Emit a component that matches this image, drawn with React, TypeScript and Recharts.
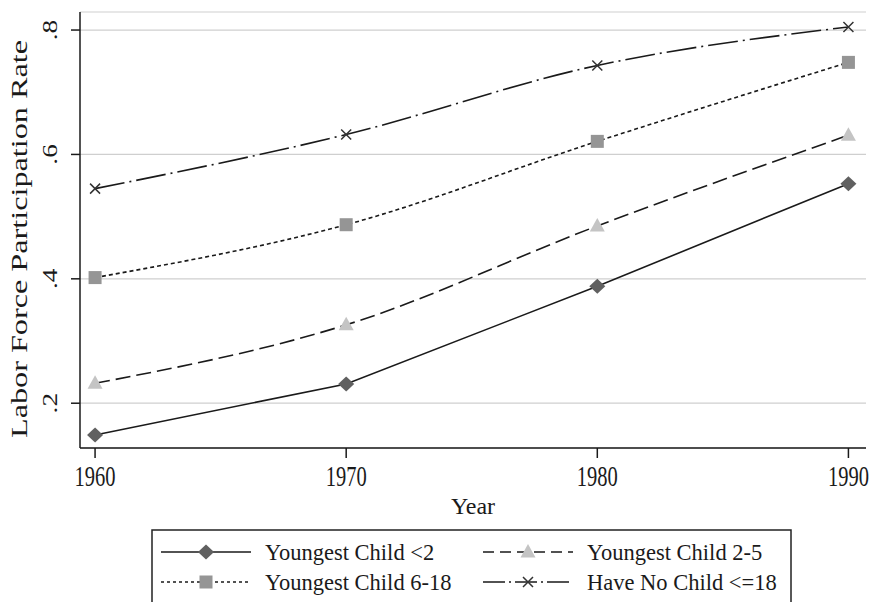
import React from 'react';
import { LineChart, Line, XAxis, YAxis, CartesianGrid, Label } from 'recharts';

const YEARS = [1960, 1970, 1980, 1990];
const CHILD_UNDER_2 = [0.149, 0.231, 0.388, 0.553];
const CHILD_2_5 = [0.232, 0.326, 0.485, 0.631];
const CHILD_6_18 = [0.402, 0.487, 0.621, 0.748];
const NO_CHILD = [0.545, 0.632, 0.743, 0.805];
const X_TICKS = [1960, 1970, 1980, 1990];
const Y_TICKS = [0.2, 0.4, 0.6, 0.8];

const data = YEARS.map((year, i) => ({
  year,
  under2: CHILD_UNDER_2[i],
  age2to5: CHILD_2_5[i],
  age6to18: CHILD_6_18[i],
  noChild: NO_CHILD[i],
}));

const FONT = '"Liberation Serif", "Times New Roman", serif';
const INK = '#1a1a1a';

const Diamond = ({ cx, cy }: { cx: number; cy: number }) => (
  <polygon points={`${cx},${cy - 7.5} ${cx + 8},${cy} ${cx},${cy + 7.5} ${cx - 8},${cy}`} fill="#606060" />
);
const Triangle = ({ cx, cy }: { cx: number; cy: number }) => (
  <polygon points={`${cx},${cy - 8} ${cx + 7.5},${cy + 5.5} ${cx - 7.5},${cy + 5.5}`} fill="#c4c4c4" />
);
const Square = ({ cx, cy }: { cx: number; cy: number }) => (
  <rect x={cx - 6.5} y={cy - 6.5} width={13} height={13} fill="#959595" />
);
const Cross = ({ cx, cy }: { cx: number; cy: number }) => (
  <path d={`M${cx - 5},${cy - 5}L${cx + 5},${cy + 5}M${cx - 5},${cy + 5}L${cx + 5},${cy - 5}`} stroke="#333" strokeWidth={1.5} />
);

const dotWith = (Shape: React.FC<{ cx: number; cy: number }>, name: string) => (props: any) => (
  <Shape key={`${name}-${props.index}`} cx={props.cx} cy={props.cy} />
);

// tick text in the original is drawn taller than normal
const XTick = (props: any) => {
  const { x, y, payload } = props;
  const by = y + 26;
  return (
    <text
      x={0}
      y={0}
      transform={`translate(${x} ${by}) scale(1 1.4)`}
      textAnchor="middle"
      fontFamily={FONT}
      fontSize={20.5}
      fill={INK}
    >
      {payload.value}
    </text>
  );
};

const YTick = (props: any) => {
  const { y, payload } = props;
  const label = payload.value.toFixed(1).replace(/^0/, '');
  return (
    <text
      x={0}
      y={0}
      transform={`translate(57 ${y}) rotate(-90) scale(1.3 1)`}
      textAnchor="middle"
      fontFamily={FONT}
      fontSize={21}
      fill={INK}
    >
      {label}
    </text>
  );
};

const LEGEND = [
  { label: 'Youngest Child <2', dash: undefined, Shape: Diamond, x: 161, y: 552 },
  { label: 'Youngest Child 2-5', dash: '11 6', Shape: Triangle, x: 483, y: 552 },
  { label: 'Youngest Child 6-18', dash: '3 3', Shape: Square, x: 161, y: 582 },
  { label: 'Have No Child <=18', dash: '22 4 2 4', Shape: Cross, x: 483, y: 582 },
];

const LegendBox = () => (
  <svg width={872} height={602} style={{ position: 'absolute', left: 0, top: 0, pointerEvents: 'none' }}>
    <rect x={152} y={530} width={639} height={90} fill="none" stroke="#222" strokeWidth={1.5} />
    {LEGEND.map((item) => (
      <g key={item.label}>
        <line x1={item.x} x2={item.x + 90} y1={item.y} y2={item.y} stroke={INK} strokeWidth={1.5} strokeDasharray={item.dash} />
        <item.Shape cx={item.x + 45} cy={item.y} />
        <text x={item.x + 104} y={item.y + 7.5} fontFamily={FONT} fontSize={22.5} fill={INK}>
          {item.label}
        </text>
      </g>
    ))}
  </svg>
);

export default function App() {
  return (
    <div style={{ position: 'absolute', left: 0, top: 0, width: 872, height: 602, overflow: 'hidden', background: '#fff' }}>
      <LineChart width={872} height={602} data={data} margin={{ top: 12, right: 6, left: 10, bottom: 94 }}>
        <CartesianGrid vertical={false} stroke="#cfcfcf" strokeWidth={1.2} />
        <XAxis
          dataKey="year"
          type="number"
          domain={[1959.4, 1990.7]}
          allowDataOverflow
          ticks={X_TICKS}
          height={60}
          tickSize={10}
          tick={<XTick />}
          axisLine={{ stroke: INK, strokeWidth: 1.5 }}
          tickLine={{ stroke: INK, strokeWidth: 1.5 }}
        >
          <Label
            content={(p: any) => {
              const vb = p.viewBox;
              return (
                <text x={vb.x + vb.width / 2} y={vb.y + 66} textAnchor="middle" fontFamily={FONT} fontSize={24} fill={INK}>
                  Year
                </text>
              );
            }}
          />
        </XAxis>
        <YAxis
          type="number"
          domain={[0.128, 0.829]}
          allowDataOverflow
          ticks={Y_TICKS}
          width={70}
          tickSize={9}
          tick={<YTick />}
          axisLine={{ stroke: INK, strokeWidth: 1.5 }}
          tickLine={{ stroke: INK, strokeWidth: 1.5 }}
        >
          <Label
            content={(p: any) => {
              const vb = p.viewBox;
              const cy = vb.y + vb.height / 2 + 9;
              return (
                <text
                  x={27}
                  y={cy}
                  transform={`rotate(-90 27 ${cy})`}
                  textAnchor="middle"
                  fontFamily={FONT}
                  fontSize={24}
                  textLength={398}
                  lengthAdjust="spacingAndGlyphs"
                  fill={INK}
                >
                  Labor Force Participation Rate
                </text>
              );
            }}
          />
        </YAxis>
        <Line type="linear" dataKey="under2" stroke={INK} strokeWidth={1.6} dot={dotWith(Diamond, 'u2')} activeDot={false} isAnimationActive={false} />
        <Line type="monotone" dataKey="age2to5" stroke={INK} strokeWidth={1.6} strokeDasharray="15 6" dot={dotWith(Triangle, 'a25')} activeDot={false} isAnimationActive={false} />
        <Line type="monotone" dataKey="age6to18" stroke={INK} strokeWidth={1.6} strokeDasharray="4 3" dot={dotWith(Square, 'a618')} activeDot={false} isAnimationActive={false} />
        <Line type="monotone" dataKey="noChild" stroke={INK} strokeWidth={1.6} strokeDasharray="30 5 2 5" dot={dotWith(Cross, 'nc')} activeDot={false} isAnimationActive={false} />
      </LineChart>
      <LegendBox />
    </div>
  );
}
